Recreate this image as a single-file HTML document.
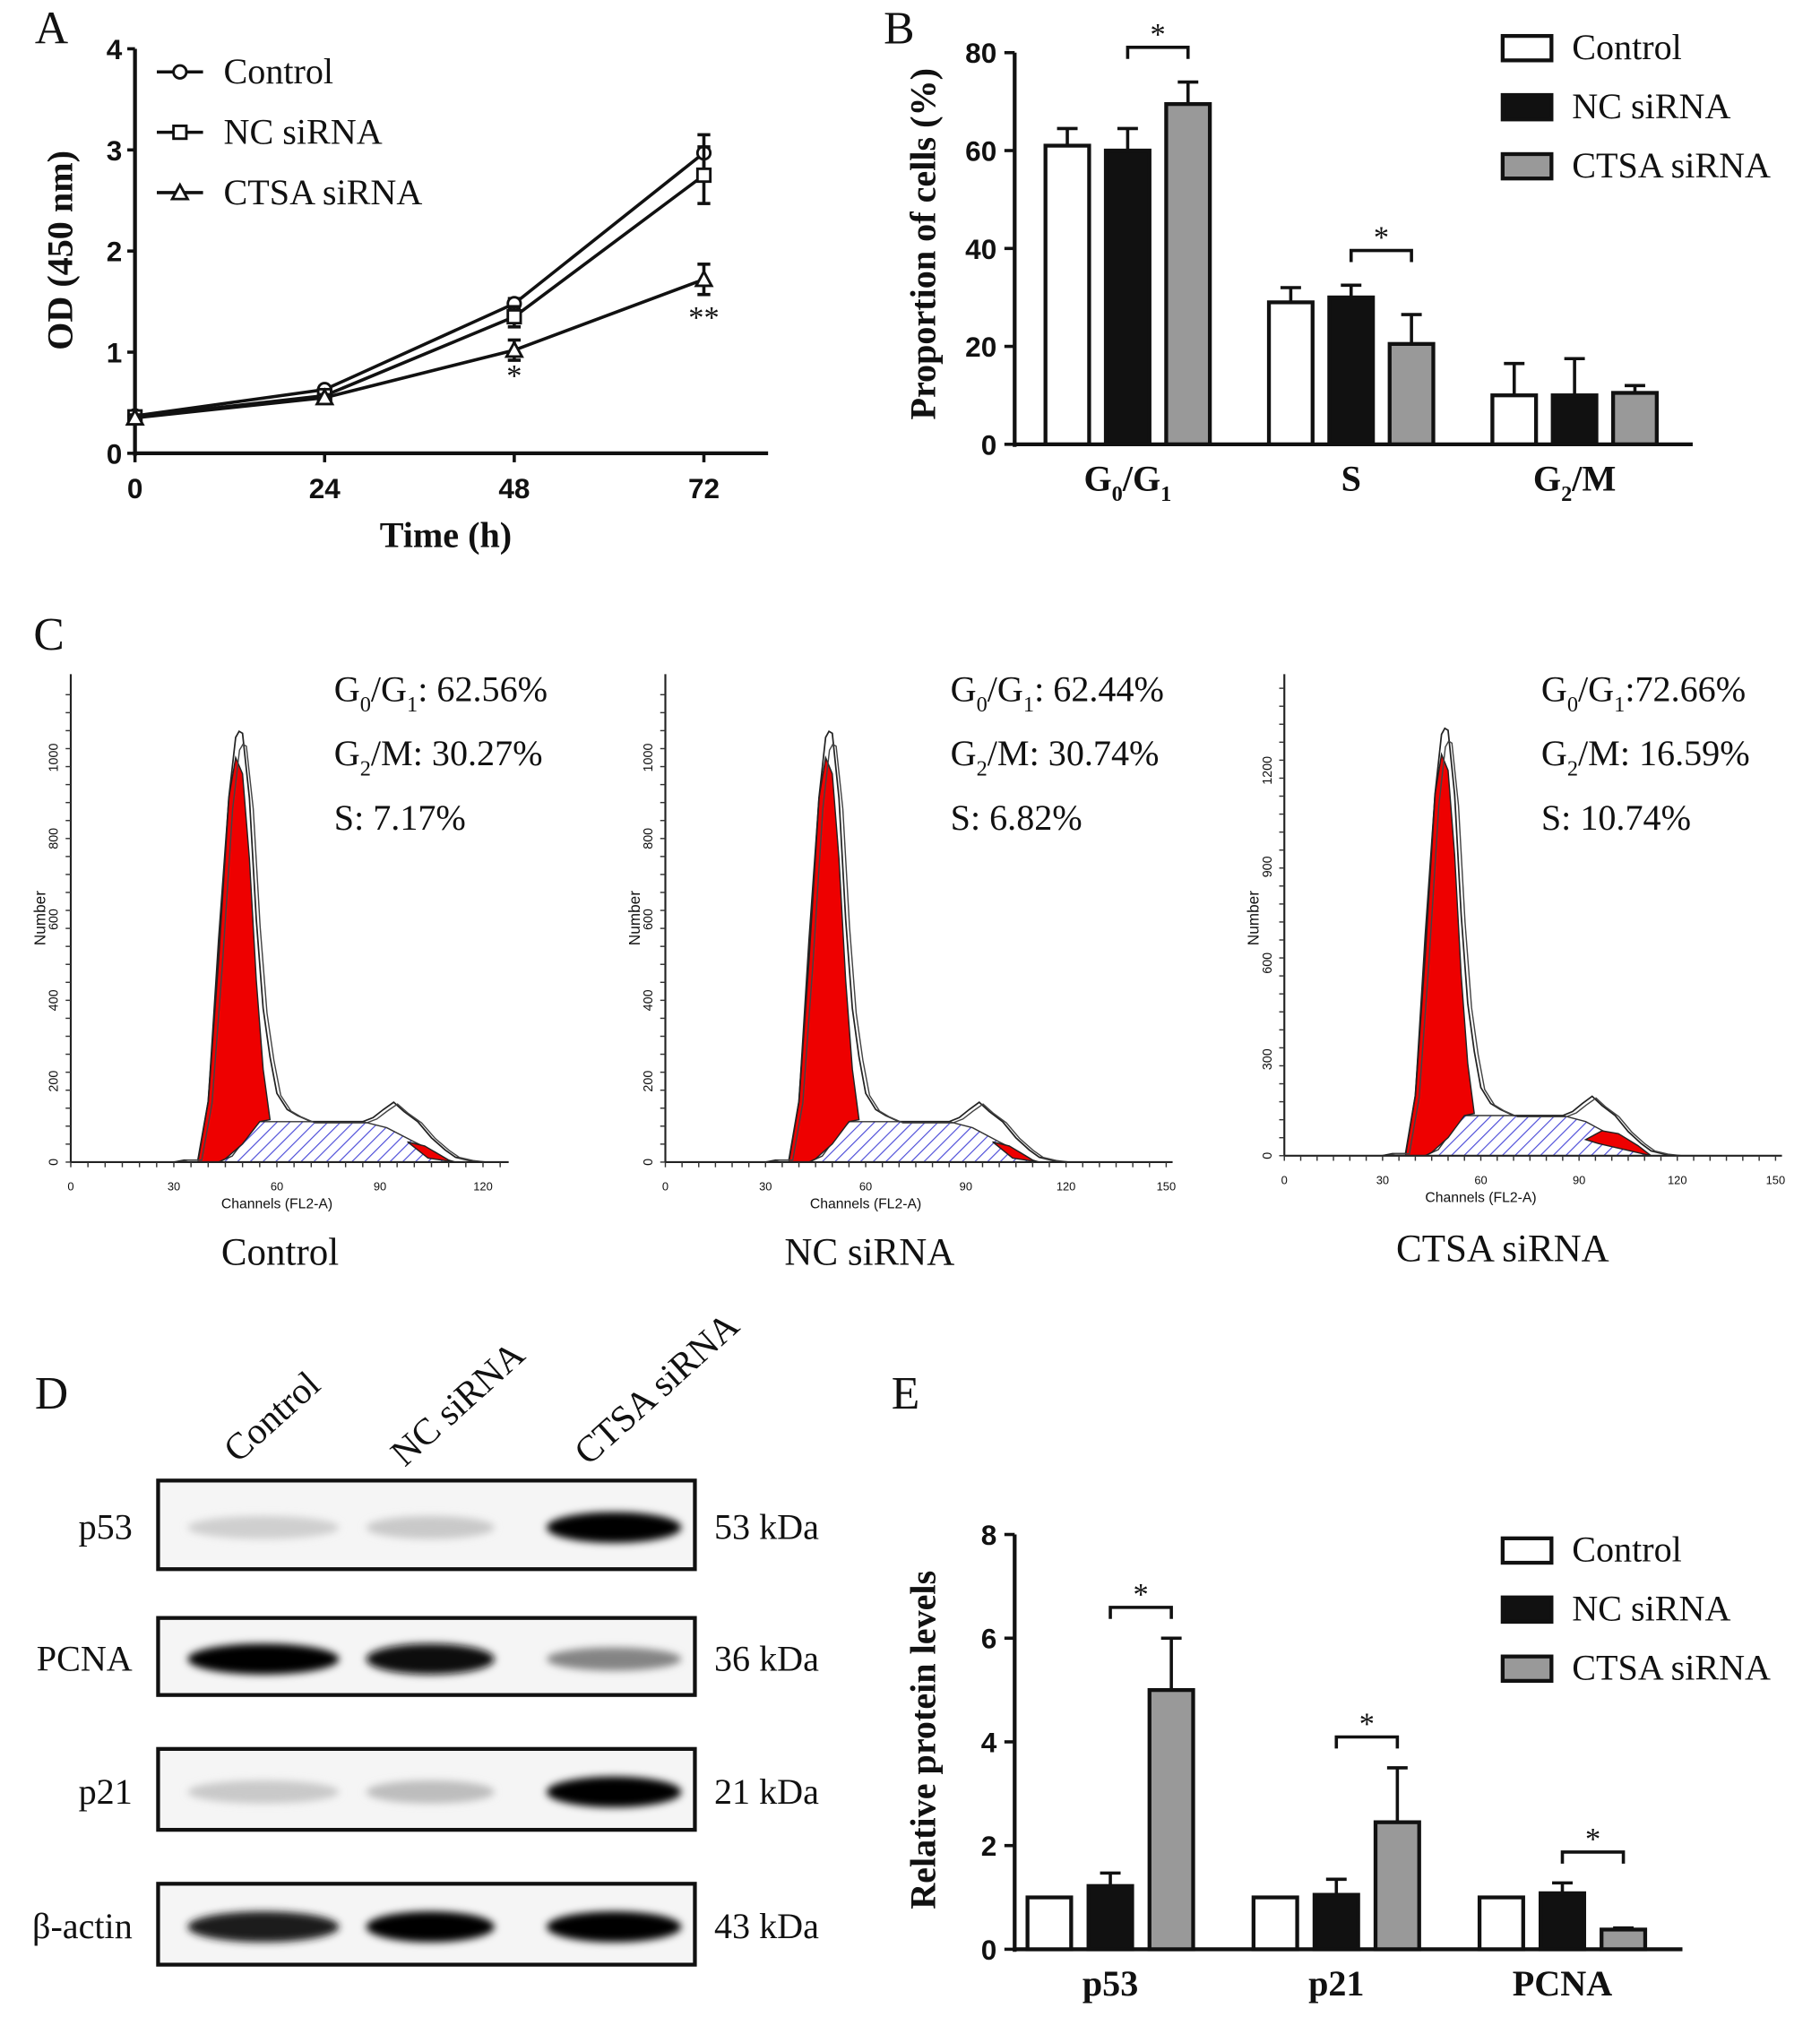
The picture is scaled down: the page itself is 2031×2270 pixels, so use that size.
<!DOCTYPE html>
<html><head><meta charset="utf-8"><style>
html,body{margin:0;padding:0;background:#fff;}
svg{display:block;}
text{font-family:"Liberation Serif",serif;fill:#111;}
.sans{font-family:"Liberation Sans",sans-serif;}
</style></head><body>
<svg id="fig" width="2031" height="2270" viewBox="0 0 1417 1584" xmlns="http://www.w3.org/2000/svg">
<defs>
<pattern id="hatch" width="7" height="7" patternUnits="userSpaceOnUse" patternTransform="rotate(45)">
<rect width="7" height="7" fill="#fff"/><line x1="0" y1="0" x2="0" y2="7" stroke="#4a4ad8" stroke-width="1.6"/></pattern>
<filter id="blur" x="-20%" y="-50%" width="140%" height="200%"><feGaussianBlur stdDeviation="3"/></filter>
</defs>
<g id="layer"></g>
</svg>
<script>
// ---- Panel A data
const timeCats=[0,24,48,72];
const seriesA_ctrl=[0.37,0.63,1.48,2.97];
const seriesA_nc=[0.36,0.57,1.35,2.75];
const seriesA_ctsa=[0.35,0.55,1.02,1.72];
const errA_ctrl=[0.03,0.03,0.05,0.18];
const errA_nc=[0.03,0.03,0.1,0.28];
const errA_ctsa=[0.03,0.03,0.1,0.15];
const ticksA=[0,1,2,3,4];
// ---- Panel B data
const phaseCats=["G0/G1","S","G2/M"];
const B_ctrl=[61,29,10];
const B_nc=[60,30,10];
const B_ctsa=[69.5,20.5,10.5];
const Berr_ctrl=[3.5,3,6.5];
const Berr_nc=[4.5,2.5,7.5];
const Berr_ctsa=[4.5,6,1.5];
const ticksB=[0,20,40,60,80];
// ---- Panel E data
const protCats=["p53","p21","PCNA"];
const E_ctrl=[1,1,1];
const E_nc=[1.22,1.05,1.08];
const E_ctsa=[5.0,2.45,0.38];
const Eerr_ctrl=[0,0,0];
const Eerr_nc=[0.25,0.3,0.2];
const Eerr_ctsa=[1.0,1.05,0.03];
const ticksE=[0,2,4,6,8];
// ---- Panel C histogram shape data (channel, count)
const histOutline=[[30,0],[33,5],[37,5],[40,150],[43,500],[46,900],[48,1050],[49,1065],[50,1060],[52,900],[54,600],[56,380],[58,260],[60,170],[63,130],[66,115],[70,100],[85,100],[88,110],[91,130],[94,148],[97,125],[101,100],[105,60],[109,30],[112,12],[116,4],[120,0]];
const histRed=[[37,0],[40,150],[43,550],[46,900],[48,1000],[50,960],[52,750],[54,450],[56,230],[58,105],[55,100],[50,45],[45,8],[43,0]];
const histHatch=[[43,0],[47,15],[51,60],[55,100],[85,100],[92,85],[100,50],[106,25],[111,0]];
const histRedG2_small=[[98,50],[103,40],[110,5],[112,0],[104,10]];
const histRedG2_big=[[92,40],[97,62],[102,55],[108,25],[112,0],[96,30]];
const histStats=[["62.56%","30.27%","7.17%"],["62.44%","30.74%","6.82%"],["72.66%","16.59%","10.74%"]];
const histCountTicks=[[0,200,400,600,800,1000],[0,200,400,600,800,1000],[0,300,600,900,1200]];
const histChTicks=[[0,30,60,90,120],[0,30,60,90,120,150],[0,30,60,90,120,150]];
const histLabels=["Control","NC siRNA","CTSA siRNA"];
// ---- Panel D blot intensities (0..1) per row, per lane
const blotRows=["p53","PCNA","p21","β-actin"];
const blotKda=["53 kDa","36 kDa","21 kDa","43 kDa"];
const blotIntensity=[[0.12,0.15,1.0],[1.0,0.95,0.45],[0.15,0.2,1.0],[0.9,1.0,1.0]];

const NS="http://www.w3.org/2000/svg";
const L=document.getElementById('layer');
function mk(tag,attrs,parent){const e=document.createElementNS(NS,tag);for(const k in attrs)e.setAttribute(k,attrs[k]);(parent||L).appendChild(e);return e;}
function txt(x,y,s,size,attrs,parent){const t=mk('text',Object.assign({x:x,y:y,'font-size':size},attrs||{}),parent);t.innerHTML=s;return t;}

// Panel letters
[["A",40,34],["B",700,34],["C",38,506],["D",40,1097],["E",705,1097]].forEach(p=>{
 const t=txt(p[1],p[2],p[0],36,{'text-anchor':'middle'});
 
 
});

// ===== Panel A
(function(){
 const g=mk('g',{});
 
 const x0=105,x1=548,y0=353,yTop=38;
 const xs=v=>x0+(v-0)/72*(x1-x0);
 const ys=v=>y0-v/4*(y0-yTop);
 mk('line',{x1:x0,y1:y0,x2:598,y2:y0,stroke:'#111','stroke-width':3},g);
 mk('line',{x1:x0,y1:y0+2,x2:x0,y2:yTop,stroke:'#111','stroke-width':3},g);
 ticksA.forEach(t=>{mk('line',{x1:x0-6,y1:ys(t),x2:x0,y2:ys(t),stroke:'#111','stroke-width':2.5},g);
  const l=txt(x0-10,ys(t)+8,String(t),22,{'text-anchor':'end','font-weight':'bold',class:'sans'},g);});
 timeCats.forEach(t=>{mk('line',{x1:xs(t),y1:y0,x2:xs(t),y2:y0+7,stroke:'#111','stroke-width':2.5},g);
  const l=txt(xs(t),y0+35,String(t),22,{'text-anchor':'middle','font-weight':'bold',class:'sans'},g);});
 const xt=txt(347,426,'Time (h)',28,{'text-anchor':'middle','font-weight':'bold'},g);
 const yt=txt(0,0,'OD (450 nm)',28,{'text-anchor':'middle','font-weight':'bold',transform:'translate(56,195) rotate(-90)'},g);
 const series=[[seriesA_ctrl,errA_ctrl,'circle','Control'],[seriesA_nc,errA_nc,'square','NC siRNA'],[seriesA_ctsa,errA_ctsa,'triangle','CTSA siRNA']];
 function marker(x,y,type,par){
  if(type==='circle')return mk('circle',{cx:x,cy:y,r:5,fill:'#fff',stroke:'#111','stroke-width':2},par);
  if(type==='square')return mk('rect',{x:x-5,y:y-5,width:10,height:10,fill:'#fff',stroke:'#111','stroke-width':2},par);
  return mk('polygon',{points:`${x},${y-6} ${x-6},${y+5} ${x+6},${y+5}`,fill:'#fff',stroke:'#111','stroke-width':2},par);
 }
 series.forEach((s,i)=>{
  const sg=mk('g',{},g);
  const pts=s[0].map((v,j)=>xs(timeCats[j])+','+ys(v)).join(' ');
  mk('polyline',{points:pts,fill:'none',stroke:'#111','stroke-width':2.5},sg);
  s[0].forEach((v,j)=>{const x=xs(timeCats[j]);const e=s[1][j];
   mk('line',{x1:x,y1:ys(v+e),x2:x,y2:ys(v-e),stroke:'#111','stroke-width':2.5},sg);
   mk('line',{x1:x-5,y1:ys(v+e),x2:x+5,y2:ys(v+e),stroke:'#111','stroke-width':2.5},sg);
   mk('line',{x1:x-5,y1:ys(v-e),x2:x+5,y2:ys(v-e),stroke:'#111','stroke-width':2.5},sg);
   const m=marker(x,ys(v),s[2],sg);});
  const ly=56+i*47;
  const le=mk('g',{},g);
  mk('line',{x1:122,y1:ly,x2:158,y2:ly,stroke:'#111','stroke-width':2.5},le);
  marker(140,ly,s[2],le);
  txt(174,ly+9,s[3],28,{},le);
 });
 const s1=txt(xs(48),ys(seriesA_ctsa[2])+28,'*',24,{'text-anchor':'middle'},g);
 const s2=txt(xs(72),ys(seriesA_ctsa[3])+38,'**',24,{'text-anchor':'middle'},g);
})();

// ===== Bar chart helper (B, E)
function barChart(opt){
 const g=mk('g',{});
 const ys=v=>opt.y0-v/opt.ymax*(opt.y0-opt.yTop);
 mk('line',{x1:opt.x0,y1:opt.y0,x2:opt.xEnd,y2:opt.y0,stroke:'#111','stroke-width':3},g);
 mk('line',{x1:opt.x0,y1:opt.y0+2,x2:opt.x0,y2:opt.yTop,stroke:'#111','stroke-width':3},g);
 opt.ticks.forEach(t=>{mk('line',{x1:opt.x0-8,y1:ys(t),x2:opt.x0,y2:ys(t),stroke:'#111','stroke-width':2.5},g);
  const l=txt(opt.x0-14,ys(t)+8,String(t),22,{'text-anchor':'end','font-weight':'bold',class:'sans'},g);});
 const yt=txt(0,0,opt.ytitle,28,{'text-anchor':'middle','font-weight':'bold',transform:`translate(${opt.ytx},${opt.yty}) rotate(-90)`},g);
 const fills=['#fff','#111','#999'];
 const sets=[[opt.a,opt.ea],[opt.b,opt.eb],[opt.c,opt.ec]];
 opt.cats.forEach((c,i)=>{
  const gx=opt.gStart+i*opt.gStep;
  sets.forEach((s,k)=>{
   const x=gx+k*opt.bStep, v=s[0][i], e=s[1][i];
   if(e>0){mk('line',{x1:x+opt.bw/2,y1:ys(v),x2:x+opt.bw/2,y2:ys(v+e),stroke:'#111','stroke-width':2.5},g);
    mk('line',{x1:x+opt.bw/2-8,y1:ys(v+e),x2:x+opt.bw/2+8,y2:ys(v+e),stroke:'#111','stroke-width':2.5},g);}
   const r=mk('rect',{x:x,y:ys(v),width:opt.bw,height:opt.y0-ys(v),fill:fills[k],stroke:'#111','stroke-width':3},g);
   
   
  });
  const cl=txt(gx+opt.bStep+opt.bw/2,opt.y0+36,opt.catLabel?opt.catLabel(c):c,28,{'text-anchor':'middle','font-weight':'bold'},g);
  
  if(opt.sig[i]){
   const xa=gx+opt.bStep+opt.bw/2, xb=gx+2*opt.bStep+opt.bw/2;
   const top=Math.max(opt.b[i]+opt.eb[i],opt.c[i]+opt.ec[i]);
   const by=ys(top)-opt.sigGap;
   const br=mk('polyline',{points:`${xa},${by+9} ${xa},${by} ${xb},${by} ${xb},${by+9}`,fill:'none',stroke:'#111','stroke-width':2.5},g);
   
   const st=txt((xa+xb)/2,by-2,'*',24,{'text-anchor':'middle'},g);
  }
 });
 ['Control','NC siRNA','CTSA siRNA'].forEach((n,k)=>{
  const ly=opt.legY+k*opt.legStep;
  const le=mk('g',{},g);
  mk('rect',{x:1170,y:ly-9,width:38,height:19,fill:fills[k],stroke:'#111','stroke-width':3},le);
  txt(1224,ly+9,n,28,{},le);
 });
}
barChart({name:'panel-b-bar-chart',x0:790,xEnd:1318,y0:346,yTop:41,ymax:80,ticks:ticksB,ytitle:'Proportion of cells (%)',ytx:728,yty:190,
 cats:phaseCats,a:B_ctrl,b:B_nc,c:B_ctsa,ea:Berr_ctrl,eb:Berr_nc,ec:Berr_ctsa,gStart:814,gStep:174,bStep:47,bw:34,
 sig:[true,true,false],sigGap:27,legY:37,legStep:46,
 catLabel:c=>c==='G0/G1'?'G<tspan font-size="17" dy="8">0</tspan><tspan dy="-8">/G</tspan><tspan font-size="17" dy="8">1</tspan>':c==='G2/M'?'G<tspan font-size="17" dy="8">2</tspan><tspan dy="-8">/M</tspan>':c});
barChart({name:'panel-e-bar-chart',x0:790,xEnd:1310,y0:1518,yTop:1195,ymax:8,ticks:ticksE,ytitle:'Relative protein levels',ytx:728,yty:1355,
 cats:protCats,a:E_ctrl,b:E_nc,c:E_ctsa,ea:Eerr_ctrl,eb:Eerr_nc,ec:Eerr_ctsa,gStart:800,gStep:176,bStep:47.5,bw:34,
 sig:[true,true,true],sigGap:24,legY:1207,legStep:46});
// ===== Panel C histograms
const panels=[{x0:55,ppc:2.675,base:905,ppn:0.315,txtX:260,lab:218,labY:985,g2:histRedG2_small,yscale:1},
 {x0:518,ppc:2.6,base:905,ppn:0.315,txtX:740,lab:677,labY:985,g2:histRedG2_small,yscale:1},
 {x0:1000,ppc:2.55,base:900,ppn:0.25,txtX:1200,lab:1170,labY:982,g2:histRedG2_big,yscale:1.25}];
panels.forEach((p,i)=>{
 const g=mk('g',{});
 const X=c=>p.x0+c*p.ppc, Y=n=>p.base-n*p.yscale*p.ppn, YT=n=>p.base-n*p.ppn;
 const path=arr=>arr.map(q=>X(q[0])+','+Y(q[1])).join(' ');
 const axEnd=X(histChTicks[i][histChTicks[i].length-1])+ (i===0?20:5);
 const h=mk('polygon',{points:path(histHatch),fill:'url(#hatch)',stroke:'#333','stroke-width':1},g);
 const r=mk('polygon',{points:path(histRed),fill:'#ee0000',stroke:'#222','stroke-width':1},g);
 const r2=mk('polygon',{points:path(p.g2),fill:'#ee0000',stroke:'#222','stroke-width':1},g);
 mk('polyline',{points:path(histOutline),fill:'none',stroke:'#222','stroke-width':1.2},g);
 mk('polyline',{points:histOutline.map(q=>(X(q[0])+3)+','+Y(q[1]*0.97)).join(' '),fill:'none',stroke:'#444','stroke-width':1},g);
 mk('line',{x1:p.x0,y1:p.base,x2:axEnd,y2:p.base,stroke:'#222','stroke-width':1.5},g);
 mk('line',{x1:p.x0,y1:p.base,x2:p.x0,y2:525,stroke:'#222','stroke-width':1.5},g);
 for(let y=p.base;y>=530;y-=14)mk('line',{x1:p.x0-4,y1:y,x2:p.x0,y2:y,stroke:'#333','stroke-width':1},g);
 for(let x=p.x0;x<=axEnd;x+=p.ppc*5)mk('line',{x1:x,y1:p.base,x2:x,y2:p.base+4,stroke:'#333','stroke-width':1},g);
 histCountTicks[i].forEach(t=>{txt(0,0,String(t),10,{'text-anchor':'middle',class:'sans',fill:'#444',transform:`translate(${p.x0-10},${YT(t)}) rotate(-90)`},g);});
 histChTicks[i].forEach(t=>{txt(X(t),p.base+22,String(t),9,{'text-anchor':'middle',class:'sans'},g);});
 txt(X(60),p.base+36,'Channels (FL2-A)',11,{'text-anchor':'middle',class:'sans'},g);
 txt(0,0,'Number',12,{'text-anchor':'middle',class:'sans',transform:`translate(${p.x0-20},715) rotate(-90)`},g);
 const st=histStats[i];
 const sub='font-size="17" dy="8"';
 const a=txt(p.txtX,546,`G<tspan ${sub}>0</tspan><tspan dy="-8">/G</tspan><tspan ${sub}>1</tspan><tspan dy="-8">:${i===2?'':' '}${st[0]}</tspan>`,28,{},g);
 const b=txt(p.txtX,596,`G<tspan ${sub}>2</tspan><tspan dy="-8">/M: ${st[1]}</tspan>`,28,{},g);
 const c=txt(p.txtX,646,`S: ${st[2]}`,28,{},g);
 const lb=txt(p.lab,p.labY,histLabels[i],30,{'text-anchor':'middle'},g);
});

// ===== Panel D western blot
(function(){
 const g=mk('g',{});
 const rowsY=[[1153,1222],[1260,1320],[1362,1425],[1467,1530]];
 const lanes=[205,335,478];
 const laneW=[118,100,105];
 [["Control",215,1140],["NC siRNA",345,1143],["CTSA siRNA",488,1142]].forEach(h=>{
  const t=txt(0,0,h[0],29,{transform:`translate(${h[1]-30},${h[2]}) rotate(-42)`},g);
  
 });
 blotRows.forEach((r,i)=>{
  const [t,b]=rowsY[i];const cy=(t+b)/2+2;
  mk('rect',{x:123,y:t,width:418,height:b-t,fill:'#f5f5f5',stroke:'#111','stroke-width':3},g);
  blotIntensity[i].forEach((v,k)=>{
   const gray=Math.round(235-v*230);
   const e=mk('ellipse',{cx:lanes[k],cy:cy,rx:laneW[k]/2,ry:v>0.6?12:9,fill:`rgb(${gray},${gray},${gray})`,filter:'url(#blur)'},g);
   
  });
  const l=txt(103,cy+9,r,28,{'text-anchor':'end'},g);
  const kd=txt(556,cy+9,blotKda[i],28,{},g);
 });
})();
</script>
</body></html>
